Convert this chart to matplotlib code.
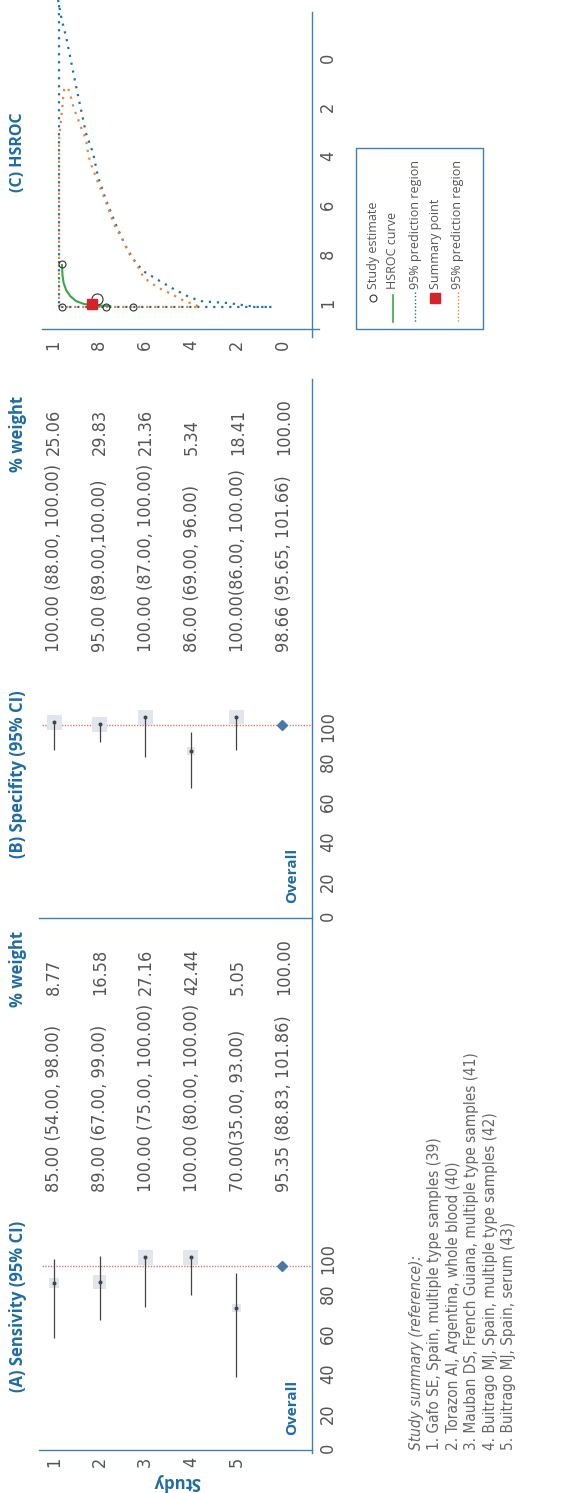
"""Forest plots (sensitivity / specificity) and HSROC panel, rotated page layout."""

import matplotlib

matplotlib.use("Agg")
import matplotlib.pyplot as plt
import numpy as np
from matplotlib import font_manager as fm
from matplotlib.patches import Rectangle

W, H = 577, 1493
PT = 0.72  # points per pixel at dpi 100

# ---------------------------------------------------------------- data
studies = [1, 2, 3, 4, 5]
overall_pos = 6

sens_text = [
    "85.00 (54.00, 98.00)",
    "89.00 (67.00, 99.00)",
    "100.00 (75.00, 100.00)",
    "100.00 (80.00, 100.00)",
    "70.00(35.00, 93.00)",
    "95.35 (88.83, 101.86)",
]
sens_weight = [8.77, 16.58, 27.16, 42.44, 5.05]
# marks as drawn in the figure
sens_point = [83.5, 84.0, 96.5, 96.5, 71.0]
sens_low = [56.0, 65.0, 71.5, 77.5, 36.5]
sens_high = [95.5, 97.0, 96.5, 96.5, 88.5]
sens_overall = 92.0

spec_text = [
    "100.00 (88.00, 100.00)",
    "95.00 (89.00,100.00)",
    "100.00 (87.00, 100.00)",
    "86.00 (69.00, 96.00)",
    "100.00(86.00, 100.00)",
    "98.66 (95.65, 101.66)",
]
spec_weight = [25.06, 29.83, 21.36, 5.34, 18.41]
spec_point = [98.0, 97.0, 100.5, 83.5, 100.5]
spec_low = [84.0, 88.0, 80.5, 65.0, 84.0]
spec_high = [98.0, 97.0, 100.5, 93.0, 100.5]
spec_overall = 96.5

forest_ticks = [0, 20, 40, 60, 80, 100]

study_refs = [
    "1. Gafo SE, Spain, multiple type samples (39)",
    "2. Torazon AI, Argentina, whole blood (40)",
    "3. Mauban DS, French Guiana, multiple type samples (41)",
    "4. Buitrago MJ, Spain, multiple type samples (42)",
    "5. Buitrago MJ, Spain, serum (43)",
]

# HSROC: sensitivity / specificity
est_sens = [0.961, 0.961, 0.809, 0.770, 0.652]
est_spec = [0.833, 1.008, 0.976, 1.008, 1.008]
summary_sens, summary_spec = 0.830, 0.996

curve_sens = [0.961, 0.959, 0.954, 0.943, 0.926, 0.900, 0.865, 0.817, 0.752]
curve_spec = [0.837, 0.878, 0.910, 0.939, 0.963, 0.984, 0.996, 1.002, 1.004]

pred_sens = [0.978, 0.961, 0.943, 0.922, 0.900, 0.878, 0.857, 0.826, 0.804,
             0.770, 0.730, 0.687, 0.652, 0.609, 0.543, 0.483, 0.417, 0.361,
             0.304, 0.239, 0.178, 0.113, 0.048, 0.974, 0.974]
pred_spec = [-0.245, -0.159, -0.094, 0.004, 0.106, 0.204, 0.298, 0.380, 0.478,
             0.571, 0.665, 0.755, 0.812, 0.861, 0.898, 0.931, 0.963, 0.984,
             0.988, 0.992, 1.000, 1.008, 1.008, 1.008, -0.245]

conf_sens = [0.974, 0.974, 0.965, 0.961, 0.957, 0.952, 0.943, 0.935, 0.926,
             0.917, 0.909, 0.896, 0.887, 0.874, 0.861, 0.852, 0.848, 0.839,
             0.826, 0.809, 0.787, 0.774, 0.757, 0.739, 0.722, 0.700, 0.674,
             0.652, 0.635, 0.617, 0.604, 0.578, 0.548, 0.513, 0.483, 0.457,
             0.426, 0.391, 0.361, 0.974]
conf_spec = [1.008, 0.327, 0.237, 0.204, 0.163, 0.122, 0.110, 0.114, 0.139,
             0.171, 0.200, 0.229, 0.253, 0.286, 0.314, 0.347, 0.380, 0.416,
             0.445, 0.490, 0.539, 0.571, 0.612, 0.661, 0.694, 0.727, 0.784,
             0.812, 0.837, 0.869, 0.890, 0.906, 0.927, 0.943, 0.955, 0.971,
             0.984, 0.996, 1.008, 1.008]

hsroc_ticks = [0, 0.2, 0.4, 0.6, 0.8, 1.0]
hsroc_labels = ["0", "2", "4", "6", "8", "1"]

legend_labels = ["Study estimate", "HSROC curve", "95% prediction region",
                 "Summary point", "95% prediction region"]

# ---------------------------------------------------------------- style
BLUE = "#1f6ca3"
AXIS = "#3f7fb3"
GRAY = "#555555"
INK = "#444444"
BOX = "#e1e5ee"
REF = "#e27474"
DIAMOND = "#4877a8"
PRED = "#1f6fb4"
CONF = "#f5822a"
GREEN = "#3aa845"
SQUARE = "#d6222b"

_names = {f.name for f in fm.fontManager.ttflist}
if "Liberation Sans Narrow" in _names:
    plt.rcParams["font.family"] = ["Liberation Sans Narrow", "DejaVu Sans"]
else:
    plt.rcParams["font.family"] = ["DejaVu Sans"]
    plt.rcParams["font.stretch"] = "condensed"
HEAD = "Open Sans" if "Open Sans" in _names else "DejaVu Sans"


def rect(x0, y0, x1, y1):
    return [x0 / W, 1 - y1 / H, (x1 - x0) / W, (y1 - y0) / H]


def draw_forest(ax, point, low, high, weight, overall, show_studies):
    pos = np.array(studies, dtype=float)
    side = np.clip(6 + 0.45 * np.asarray(weight), 8, 15) * PT
    ax.scatter(pos, point, marker="s", s=side ** 2, color=BOX, linewidths=0,
               zorder=2, clip_on=False)
    ax.vlines(pos, low, high, color=INK, lw=0.9, zorder=3, clip_on=False)
    ax.scatter(pos, point, s=(4 * PT) ** 2, color=INK, linewidths=0,
               zorder=4, clip_on=False)
    ax.axhline(overall, xmin=0.011, xmax=1, color=REF, lw=1.0, ls=(0, (1, 1)),
               zorder=1)
    ax.plot([overall_pos], [overall], marker="D", ms=5.2, color=DIAMOND,
            ls="none", zorder=5, clip_on=False)
    ax.set_xlim(0.671, 6.658)
    ax.set_ylim(0, 100)
    ax.patch.set_visible(False)
    for s in ax.spines.values():
        s.set_visible(False)
    ax.yaxis.tick_right()
    ax.set_yticks(forest_ticks)
    ax.tick_params(axis="y", length=0, pad=5, labelrotation=90, labelsize=13,
                   labelcolor=GRAY)
    if show_studies:
        ax.set_xticks(studies)
        ax.tick_params(axis="x", length=0, pad=5, labelrotation=90,
                       labelsize=13, labelcolor=GRAY)
    else:
        ax.set_xticks([])


fig = plt.figure(figsize=(W / 100, H / 100), dpi=100)

lay = fig.add_axes([0, 0, 1, 1], zorder=0)
lay.set_xlim(0, W)
lay.set_ylim(H, 0)
lay.axis("off")

# forest panels
ax_a = fig.add_axes(rect(39, 1250, 312, 1450), zorder=2)
draw_forest(ax_a, sens_point, sens_low, sens_high, sens_weight, sens_overall, True)
ax_b = fig.add_axes(rect(39, 718, 312, 918), zorder=2)
draw_forest(ax_b, spec_point, spec_low, spec_high, spec_weight, spec_overall, False)

# HSROC panel
ax_c = fig.add_axes(rect(42, 0, 312, 329), zorder=2)
ax_c.plot(pred_sens, pred_spec, color=PRED, lw=1.6, ls=(0, (1, 2.6)), clip_on=False)
ax_c.plot(conf_sens, conf_spec, color=CONF, lw=1.6, ls=(0, (1, 2.6)), clip_on=False)
ax_c.plot(curve_sens, curve_spec, color=GREEN, lw=1.5, zorder=3)
sizes = [5, 5, 8, 5, 5]
for s_, p_, m_ in zip(est_sens, est_spec, sizes):
    ax_c.plot([s_], [p_], marker="o", ms=m_, mfc="none", mec="#333333",
              mew=0.8, ls="none", zorder=4, clip_on=False)
ax_c.plot([summary_sens], [summary_spec], marker="s", ms=6.5, color=SQUARE,
          ls="none", zorder=5, clip_on=False)
ax_c.set_xlim(1.048, -0.126)
ax_c.set_ylim(1.098, -0.245)
ax_c.patch.set_visible(False)
for s in ax_c.spines.values():
    s.set_visible(False)
ax_c.set_xticks(hsroc_ticks)
ax_c.set_xticklabels(hsroc_labels)
ax_c.yaxis.tick_right()
ax_c.set_yticks(hsroc_ticks)
ax_c.set_yticklabels(hsroc_labels)
ax_c.tick_params(length=0, pad=5, labelrotation=90, labelsize=13, labelcolor=GRAY)
ax_c.tick_params(axis="x", pad=8)

# axis lines
lay.plot([312, 312], [379, 1453], color=AXIS, lw=1.0)
lay.plot([312, 312], [12, 337], color=AXIS, lw=1.0)
lay.plot([42, 319], [329, 329], color=AXIS, lw=1.0)
lay.plot([39, 312], [1450, 1450], color=AXIS, lw=1.0)
lay.plot([39, 312], [918, 918], color=AXIS, lw=1.0)

# headings
head = dict(rotation=90, ha="center", va="bottom", color=BLUE,
            family=HEAD, stretch="normal", weight="bold", fontsize=12)
lay.text(18, 1392, "(A) Sensivity (95% CI)", **head)
lay.text(18, 1007, "% weight", **head)
lay.text(18, 858, "(B) Specifity (95% CI)", **head)
lay.text(18, 472, "% weight", **head)
lay.text(18, 192, "(C) HSROC", **dict(head, fontsize=11.5))
lay.text(292, 1435, "Overall", **dict(head, fontsize=11))
lay.text(292, 903, "Overall", **dict(head, fontsize=11))
lay.text(177, 1482, "Study", rotation=180, ha="center", va="center",
         color=BLUE, family=HEAD, stretch="normal", weight="bold", fontsize=12)

# table columns
cell = dict(rotation=90, ha="center", va="bottom", color=GRAY, fontsize=13)
sens_w_text = [f"{w:.2f}" for w in sens_weight] + ["100.00"]
spec_w_text = [f"{w:.2f}" for w in spec_weight] + ["100.00"]
for i in range(6):
    x = 54 + 46 * i
    lay.text(x, 1192, sens_text[i], **cell)
    lay.text(x, 995, sens_w_text[i], **cell)
    lay.text(x, 652, spec_text[i], **cell)
    lay.text(x, 455, spec_w_text[i], **cell)

# study summary
note = dict(rotation=90, ha="center", va="bottom", color="#666666", fontsize=11)
lay.text(417, 1450, "Study summary (reference):", style="italic", **note)
for j, line in enumerate(study_refs):
    lay.text(435 + 18.4 * j, 1450, line, **note)

# legend
lay.add_patch(Rectangle((356, 148), 127, 181, fill=False, ec=AXIS, lw=1.0))
lay.plot([373], [298], marker="o", ms=5, mfc="none", mec="#333333", mew=0.8)
lay.plot([393, 393], [295, 322], color=GREEN, lw=1.2)
lay.plot([415, 415], [292, 322], color=PRED, lw=1.0, ls=(0, (1, 1.5)))
lay.plot([435], [298], marker="s", ms=6.5, color=SQUARE)
lay.plot([458, 458], [292, 322], color=CONF, lw=1.0, ls=(0, (1, 1.5)))
for x, lab in zip([373, 393, 415, 435, 458], legend_labels):
    lay.text(x, 289, lab, rotation=90, ha="center", va="bottom", color=GRAY,
             family=HEAD, stretch="normal", fontsize=9)

fig.savefig("out.png", dpi=100)
plt.close(fig)
